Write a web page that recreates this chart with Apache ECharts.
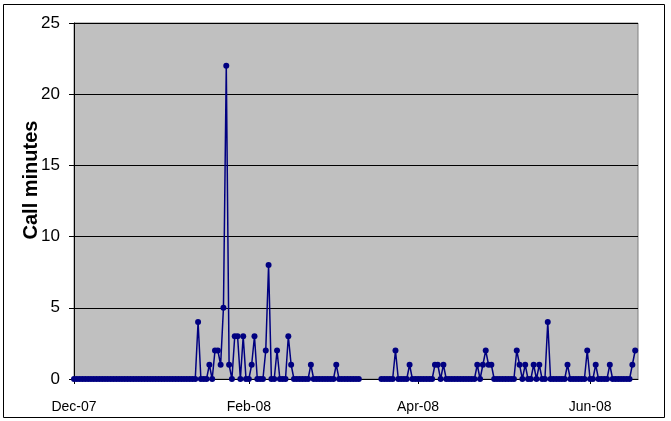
<!DOCTYPE html>
<html>
<head>
<meta charset="utf-8">
<script src="https://cdn.jsdelivr.net/npm/echarts@6/dist/echarts.min.js"></script>
<style>
  html, body { margin: 0; padding: 0; background: #ffffff; }
  #chart { width: 671px; height: 421px; }
</style>
</head>
<body>
<div id="chart"></div>
<script>
// Daily call minutes, one array per month (null = no record that day)
const decValues = [0,0,0,0,0,0,0,0,0,0,0,0,0,0,0,0,0,0,0,0,0,0,0,0,0,0,0,0,0,0,0];
const janValues = [0,0,0,0,0,0,0,0,0,0,0,0,0,4,0,0,0,1,0,2,2,1,5,22,1,0,3,3,0,3,0];
const febValues = [0,1,3,0,0,0,2,8,0,0,2,0,0,0,3,1,0,0,0,0,0,0,1,0,0,0,0,0,0];
const marValues = [0,0,1,0,0,0,0,0,0,0,0,null,null,null,null,null,null,null,0,0,0,0,0,2,0,0,0,0,1,0,0];
const aprValues = [0,0,0,0,0,0,1,1,0,1,0,0,0,0,0,0,0,0,0,0,0,1,0,1,2,1,1,0,0,0];
const mayValues = [0,0,0,0,0,2,1,0,1,0,0,1,0,1,0,0,4,0,0,0,0,0,0,1,0,0,0,0,0,0,2];
const junValues = [0,0,1,0,0,0,0,1,0,0,0,0,0,0,0,1,2,null];

// First day of each month covered by the arrays above
const monthStarts = ['2007-12', '2008-01', '2008-02', '2008-03', '2008-04', '2008-05', '2008-06'];
const monthValues = [decValues, janValues, febValues, marValues, aprValues, mayValues, junValues];

// Months that carry a tick label on the date axis
const labelledMonths = ['2007-12', '2008-02', '2008-04', '2008-06'];
const monthNames = ['Jan','Feb','Mar','Apr','May','Jun','Jul','Aug','Sep','Oct','Nov','Dec'];

const yTicks = { min: 0, max: 25, step: 5 };
const yTitle = 'Call minutes';

// Build the daily category list and the matching value series
const dates = [];
const values = [];
monthStarts.forEach((m, i) => {
  monthValues[i].forEach((v, d) => {
    const day = String(d + 1).padStart(2, '0');
    dates.push(m + '-' + day);
    values.push(v);
  });
});

function isLabelDay(value) {
  return value.slice(8) === '01' && labelledMonths.indexOf(value.slice(0, 7)) >= 0;
}
function monthLabel(value) {
  const y = value.slice(2, 4);
  const mo = parseInt(value.slice(5, 7), 10);
  return monthNames[mo - 1] + '-' + y;
}

const chart = echarts.init(document.getElementById('chart'), null, { renderer: 'canvas' });

chart.setOption({
  animation: false,
  backgroundColor: '#ffffff',
  textStyle: { fontFamily: 'Liberation Sans, Arial, sans-serif' },
  graphic: [{
    type: 'rect',
    shape: { x: 3.5, y: 4.5, width: 661, height: 413 },
    style: { fill: 'none', stroke: '#000000', lineWidth: 1 },
    silent: true,
    z: -10
  }, {
    // vertical axis title
    type: 'text',
    x: 31,
    y: 180,
    rotation: Math.PI / 2,
    style: {
      text: yTitle,
      fontSize: 20,
      fontWeight: 'bold',
      fontFamily: 'Liberation Sans, Arial, sans-serif',
      fill: '#000000',
      align: 'center',
      verticalAlign: 'middle'
    },
    silent: true
  }],
  grid: {
    left: 74, right: 33, top: 23, bottom: 42,
    show: true,
    backgroundColor: '#c0c0c0',
    borderColor: '#808080',
    borderWidth: 1
  },
  xAxis: {
    type: 'category',
    data: dates,
    boundaryGap: false,
    axisLine: { show: true, lineStyle: { color: '#000000', width: 1 } },
    axisTick: {
      show: true,
      inside: false,
      length: 5,
      interval: (idx, value) => isLabelDay(value),
      lineStyle: { color: '#000000' }
    },
    axisLabel: {
      interval: (idx, value) => isLabelDay(value),
      formatter: (value) => monthLabel(value),
      color: '#000000',
      fontSize: 14,
      margin: 21
    },
    splitLine: { show: false }
  },
  yAxis: {
    type: 'value',
    min: yTicks.min,
    max: yTicks.max,
    interval: yTicks.step,
    axisLine: { show: true, lineStyle: { color: '#000000', width: 1 } },
    axisTick: { show: true, inside: false, length: 5, lineStyle: { color: '#000000' } },
    axisLabel: { color: '#000000', fontSize: 17, margin: 14 },
    splitLine: { show: true, lineStyle: { color: '#000000', width: 1 } }
  },
  series: [{
    type: 'line',
    data: values,
    connectNulls: false,
    symbol: 'circle',
    symbolSize: 6,
    showAllSymbol: true,
    lineStyle: { color: '#000080', width: 1.5 },
    itemStyle: { color: '#000080' },
    z: 5
  }]
});
</script>
</body>
</html>
